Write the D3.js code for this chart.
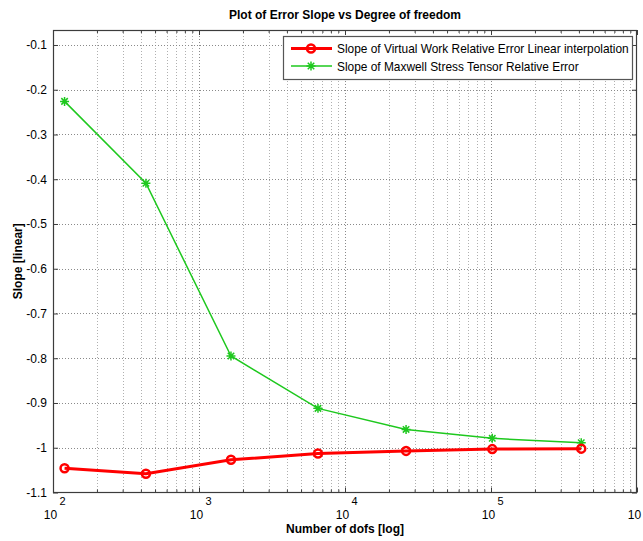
<!DOCTYPE html>
<html>
<head>
<meta charset="utf-8">
<script src="https://cdn.jsdelivr.net/npm/d3@7"></script>
<style>
  html, body { margin: 0; padding: 0; background: #fff; }
  svg { display: block; font-family: "Liberation Sans", Arial, sans-serif; }
</style>
</head>
<body>
<svg id="chart" width="643" height="541"></svg>
<script>
// Number of degrees of freedom for each refinement step
const dofs = [120, 433, 1656, 6530, 26200, 102000, 415000];
// Error slope of the virtual work method (linear interpolation)
const virtualWorkSlope = [-1.046, -1.058, -1.027, -1.013, -1.007, -1.003, -1.002];
// Error slope of the Maxwell stress tensor method
const maxwellSlope = [-0.226, -0.409, -0.795, -0.912, -0.959, -0.979, -0.989];

const xDecades = [1e2, 1e3, 1e4, 1e5, 1e6];
// the last exponent falls outside the figure and is not drawn
const xExponents = ["2", "3", "4", "5", ""];
const yTicks = [-0.1, -0.2, -0.3, -0.4, -0.5, -0.6, -0.7, -0.8, -0.9, -1, -1.1];
const yTickLabels = ["-0.1", "-0.2", "-0.3", "-0.4", "-0.5", "-0.6", "-0.7", "-0.8", "-0.9", "-1", "-1.1"];

const seriesNames = [
  "Slope of Virtual Work Relative Error Linear interpolation",
  "Slope of Maxwell Stress Tensor Relative Error"
];

const svg = d3.select("#chart");
const plotL = 53, plotR = 637, plotT = 30, plotB = 492.5;

const x = d3.scaleLog().domain([1e2, 1e6]).range([plotL, plotR]);
const y = d3.scaleLinear().domain([-1.1, -0.0665]).range([plotB, plotT]);

// minor decade subdivisions 2..9 x 10^k
const xMinor = [];
for (let e = 2; e < 6; e++) for (let m = 2; m <= 9; m++) xMinor.push(m * Math.pow(10, e));

const axisColor = "#3c3c3c";
const gridColor = "#8a8a8a";

// grid
const grid = svg.append("g");
grid.selectAll("line.xmin").data(xMinor).join("line")
  .attr("x1", d => Math.round(x(d)) + 0.5).attr("x2", d => Math.round(x(d)) + 0.5)
  .attr("y1", plotT).attr("y2", plotB)
  .attr("stroke", "#b0b0b0").attr("stroke-dasharray", "1,2");
grid.selectAll("line.xmaj").data(xDecades.slice(1, -1)).join("line")
  .attr("x1", d => Math.round(x(d)) + 0.5).attr("x2", d => Math.round(x(d)) + 0.5)
  .attr("y1", plotT).attr("y2", plotB)
  .attr("stroke", gridColor).attr("stroke-dasharray", "1,2");
grid.selectAll("line.ymaj").data(yTicks.slice(0, -1)).join("line")
  .attr("x1", plotL).attr("x2", plotR)
  .attr("y1", d => Math.round(y(d)) + 0.5).attr("y2", d => Math.round(y(d)) + 0.5)
  .attr("stroke", gridColor).attr("stroke-dasharray", "1,2");

// axes: ticks inward on all four sides
function styleAxis(g) {
  g.select(".domain").remove();
  g.selectAll(".tick line").attr("stroke", axisColor);
}
svg.append("g").attr("transform", `translate(0,${plotB})`)
  .call(d3.axisBottom(x).tickValues(xMinor).tickSize(-3).tickFormat(""))
  .call(styleAxis);
svg.append("g").attr("transform", `translate(0,${plotT})`)
  .call(d3.axisTop(x).tickValues(xMinor).tickSize(-3).tickFormat(""))
  .call(styleAxis);
const xBottom = svg.append("g").attr("transform", `translate(0,${plotB})`)
  .call(d3.axisBottom(x).tickValues(xDecades).tickSize(-5).tickFormat(""))
  .call(styleAxis);
svg.append("g").attr("transform", `translate(0,${plotT})`)
  .call(d3.axisTop(x).tickValues(xDecades).tickSize(-5).tickFormat(""))
  .call(styleAxis);

xBottom.selectAll(".tick").each(function(d, i) {
  const t = d3.select(this);
  t.append("text").attr("x", -3).attr("y", 26.5).attr("text-anchor", "middle")
    .attr("fill", "#000").attr("font-size", "12px").text("10");
  if (xExponents[i]) {
    t.append("text").attr("x", 9).attr("y", 12).attr("text-anchor", "middle")
      .attr("fill", "#000").attr("font-size", "11px").text(xExponents[i]);
  }
});

const yLeft = svg.append("g").attr("transform", `translate(${plotL},0)`)
  .call(d3.axisLeft(y).tickValues(yTicks).tickSize(-5).tickPadding(6)
    .tickFormat((d, i) => yTickLabels[i]))
  .call(styleAxis);
yLeft.selectAll(".tick text").attr("fill", "#000").attr("font-size", "12px")
  .attr("font-family", "Liberation Sans, Arial, sans-serif");
svg.append("g").attr("transform", `translate(${plotR},0)`)
  .call(d3.axisRight(y).tickValues(yTicks).tickSize(-5).tickFormat(""))
  .call(styleAxis);

// plot box
svg.append("rect").attr("x", plotL + 0.5).attr("y", plotT + 0.5)
  .attr("width", plotR - plotL - 1).attr("height", plotB - plotT - 0.5)
  .attr("fill", "none").attr("stroke", axisColor).attr("stroke-width", 1.2);

// series
const redColor = "#ff0000", greenColor = "#1ec81e";
const line = d3.line().x(d => x(d[0])).y(d => y(d[1]));
const vwPts = dofs.map((d, i) => [d, virtualWorkSlope[i]]);
const mxPts = dofs.map((d, i) => [d, maxwellSlope[i]]);

function asterisk(s) {
  const k = s * 0.72;
  return `M${-s},0L${s},0M0,${-s}L0,${s}M${-k},${-k}L${k},${k}M${-k},${k}L${k},${-k}`;
}

svg.append("path").datum(mxPts).attr("d", line)
  .attr("fill", "none").attr("stroke", greenColor).attr("stroke-width", 1.5);
svg.selectAll("path.mx").data(mxPts).join("path")
  .attr("transform", d => `translate(${x(d[0])},${y(d[1])})`)
  .attr("d", asterisk(4.5)).attr("stroke", greenColor).attr("stroke-width", 1.5).attr("fill", "none");

svg.append("path").datum(vwPts).attr("d", line)
  .attr("fill", "none").attr("stroke", redColor).attr("stroke-width", 3);
svg.selectAll("circle.vw").data(vwPts).join("circle")
  .attr("cx", d => x(d[0])).attr("cy", d => y(d[1])).attr("r", 4)
  .attr("fill", "none").attr("stroke", redColor).attr("stroke-width", 2.5);

// legend
const lg = svg.append("g");
lg.append("rect").attr("x", 283.5).attr("y", 36.5).attr("width", 349).attr("height", 43)
  .attr("fill", "#fff").attr("stroke", "#555").attr("stroke-width", 1.2);
const rows = [
  { name: seriesNames[0], color: redColor, width: 3, marker: "circle", yy: 48.5 },
  { name: seriesNames[1], color: greenColor, width: 1.5, marker: "asterisk", yy: 66 }
];
rows.forEach(r => {
  lg.append("line").attr("x1", 291).attr("x2", 332).attr("y1", r.yy).attr("y2", r.yy)
    .attr("stroke", r.color).attr("stroke-width", r.width);
  if (r.marker === "circle") {
    lg.append("circle").attr("cx", 311).attr("cy", r.yy).attr("r", 4)
      .attr("fill", "none").attr("stroke", r.color).attr("stroke-width", 2.5);
  } else {
    lg.append("path").attr("transform", `translate(311,${r.yy})`).attr("d", asterisk(4.5))
      .attr("stroke", r.color).attr("stroke-width", 1.5).attr("fill", "none");
  }
  lg.append("text").attr("x", 337).attr("y", r.yy + 4.5).attr("font-size", "11.9px")
    .attr("fill", "#000").text(r.name);
});

// titles
svg.append("text").attr("x", (plotL + plotR) / 2).attr("y", 19).attr("text-anchor", "middle")
  .attr("font-size", "12px").attr("font-weight", "bold").text("Plot of Error Slope vs Degree of freedom");
svg.append("text").attr("x", (plotL + plotR) / 2).attr("y", 533).attr("text-anchor", "middle")
  .attr("font-size", "12px").attr("font-weight", "bold").text("Number of dofs [log]");
svg.append("text").attr("transform", `translate(22,${(plotT + plotB) / 2}) rotate(-90)`)
  .attr("text-anchor", "middle")
  .attr("font-size", "12px").attr("font-weight", "bold").text("Slope [linear]");
</script>
</body>
</html>
